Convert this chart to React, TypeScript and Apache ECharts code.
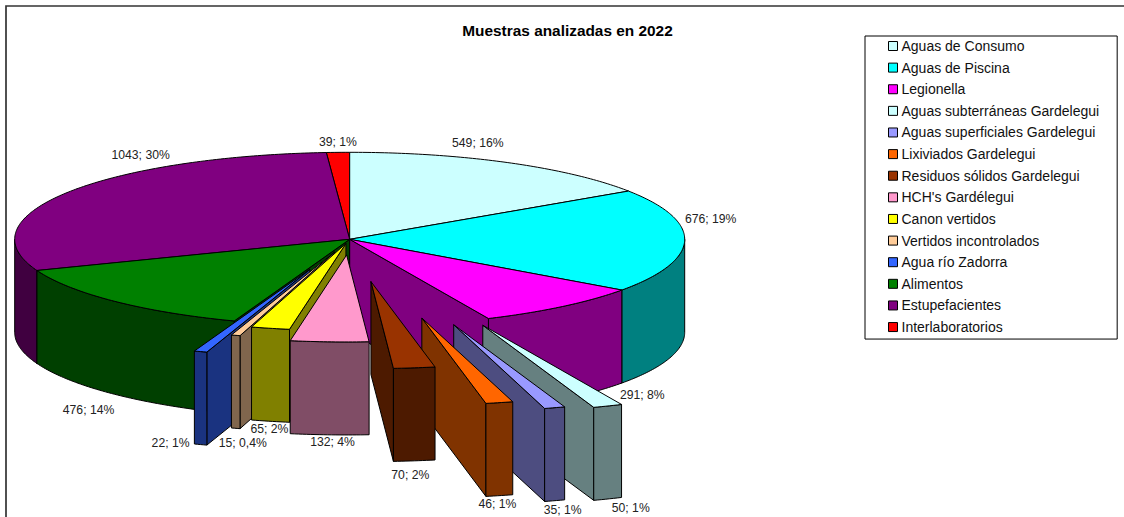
import React, { useEffect, useRef } from "react";
import * as echarts from "echarts";

const categories = [
  "Aguas de Consumo", "Aguas de Piscina", "Legionella", "Aguas subterráneas Gardelegui",
  "Aguas superficiales Gardelegui", "Lixiviados Gardelegui", "Residuos sólidos Gardelegui",
  "HCH's Gardélegui", "Canon vertidos", "Vertidos incontrolados", "Agua río Zadorra",
  "Alimentos", "Estupefacientes", "Interlaboratorios",
];
const values = [549, 676, 291, 50, 35, 46, 70, 132, 65, 15, 22, 476, 1043, 39];
const percents = ["16%", "19%", "8%", "1%", "1%", "1%", "2%", "4%", "2%", "0,4%", "1%", "14%", "30%", "1%"];
const colors = [
  "#CCFFFF", "#00FFFF", "#FF00FF", "#CCFFFF", "#9999FF", "#FF6600", "#993300",
  "#FF99CC", "#FFFF00", "#FFCC99", "#3366FF", "#008000", "#800080", "#FF0000",
];
// Slice explosion, as a fraction of the radius
const explode = [0, 0, 0, 1.065, 1.03, 0.93, 0.49, 0.18, 0.05, 0.155, 0.365, 0, 0, 0];
// Label offset from the middle of each slice's outer edge
const labelDx = [-30, 26, 80, 23, 8, -2, -4, 3, -1, 7, -30, -26, 73.5, 0];
const labelDy = [-20, -22, 88, 102, 102.5, 101, 107, 100, 101, 108, 91, 109, -38, -10];

const CX = 349.7, CY = 239.3, RX = 335, RY = 87, DEPTH = 93;
const TOTAL = values.reduce((a, b) => a + b, 0);
const RAD = Math.PI / 180;

const shade = (hex: string) => {
  const n = parseInt(hex.slice(1), 16);
  const c = (s: number) => Math.round(((n >> s) & 255) / 2);
  return `rgb(${c(16)},${c(8)},${c(0)})`;
};

const slices = (() => {
  let cum = 0;
  return values.map((v, i) => {
    const a0 = (cum / TOTAL) * 360;
    cum += v;
    const a1 = (cum / TOTAL) * 360;
    return { i, a0, a1, mid: (a0 + a1) / 2 };
  });
})();
// Painter's order: back to front
const paintOrder = [...slices].sort((p, q) => -Math.cos(p.mid * RAD) - -Math.cos(q.mid * RAD));

function renderSlice(s: { i: number; a0: number; a1: number; mid: number }) {
  const k = explode[s.i];
  const ox = CX + RX * Math.sin(s.mid * RAD) * k;
  const oy = CY - RY * Math.cos(s.mid * RAD) * k;
  const pt = (deg: number, drop = 0): number[] => [
    ox + RX * Math.sin(deg * RAD),
    oy - RY * Math.cos(deg * RAD) + drop,
  ];
  const arc = (from: number, to: number, drop = 0) => {
    const out: number[][] = [];
    const n = Math.max(2, Math.ceil(Math.abs(to - from) / 0.75));
    for (let j = 0; j <= n; j++) out.push(pt(from + ((to - from) * j) / n, drop));
    return out;
  };
  const color = colors[s.i];
  const dark = shade(color);
  const base = { stroke: "#000", lineWidth: 1, lineJoin: "round" };
  const children: any[] = [];
  const poly = (points: number[][], fill: string) =>
    children.push({ type: "polygon", shape: { points }, style: { ...base, fill } });

  // radial faces
  if (Math.sin(s.a0 * RAD) < 0) {
    const e = pt(s.a0);
    poly([[ox, oy], e, [e[0], e[1] + DEPTH], [ox, oy + DEPTH]], dark);
  }
  if (Math.sin(s.a1 * RAD) > 0) {
    const e = pt(s.a1);
    poly([[ox, oy], e, [e[0], e[1] + DEPTH], [ox, oy + DEPTH]], dark);
  }
  // outer wall: the part of the rim that faces the viewer
  const w0 = Math.max(s.a0, 90), w1 = Math.min(s.a1, 270);
  if (w1 > w0) {
    poly([...arc(w0, w1), ...arc(w1, w0, DEPTH)], dark);
  }
  // top face
  poly([[ox, oy], ...arc(s.a0, s.a1)], color);

  // label
  const c = pt(s.mid);
  children.push({
    type: "text",
    z2: 100,
    style: {
      text: `${values[s.i]}; ${percents[s.i]}`,
      x: c[0] + labelDx[s.i],
      y: c[1] + labelDy[s.i],
      fill: "#222",
      font: '12.2px "Liberation Sans", Arial, sans-serif',
      align: "center",
      verticalAlign: "middle",
    },
  });
  return { type: "group", children };
}

export default function App() {
  const ref = useRef<HTMLDivElement>(null);
  useEffect(() => {
    const chart = echarts.init(ref.current!, null, { renderer: "svg" });
    chart.setOption({
      animation: false,
      backgroundColor: "#fff",
      title: {
        text: "Muestras analizadas en 2022",
        left: 567.5,
        top: 23,
        textAlign: "center",
        padding: 0,
        textStyle: { fontFamily: '"Liberation Sans", Arial, sans-serif', fontSize: 15.4, fontWeight: "bold", color: "#000" },
      },
      legend: {
        data: categories,
        orient: "vertical",
        left: 865,
        top: 36,
        padding: [3, 18, 5, 23],
        backgroundColor: "#fff",
        borderColor: "#000",
        borderWidth: 1,
        borderRadius: 0,
        icon: "rect",
        itemWidth: 9,
        itemHeight: 9,
        itemGap: 7.62,
        selectedMode: false,
        itemStyle: { borderColor: "#000", borderWidth: 1 },
        textStyle: { fontFamily: '"Liberation Sans", Arial, sans-serif', fontSize: 14, color: "#111", padding: [0, 0, 0, -1] },
      },
      graphic: [
        {
          type: "rect",
          silent: true,
          z: -1,
          shape: { x: 6, y: 6, width: 1300, height: 700 },
          style: { fill: "none", stroke: "#333", lineWidth: 1.7 },
        },
      ],
      series: paintOrder.map((s) => ({
        type: "custom",
        name: categories[s.i],
        coordinateSystem: "none",
        silent: true,
        itemStyle: { color: colors[s.i] },
        data: [{ name: categories[s.i], value: values[s.i] }],
        renderItem: () => renderSlice(s),
      })),
    });
    return () => chart.dispose();
  }, []);
  return <div ref={ref} style={{ position: "fixed", left: 0, top: 0, width: 1124, height: 517 }} />;
}
